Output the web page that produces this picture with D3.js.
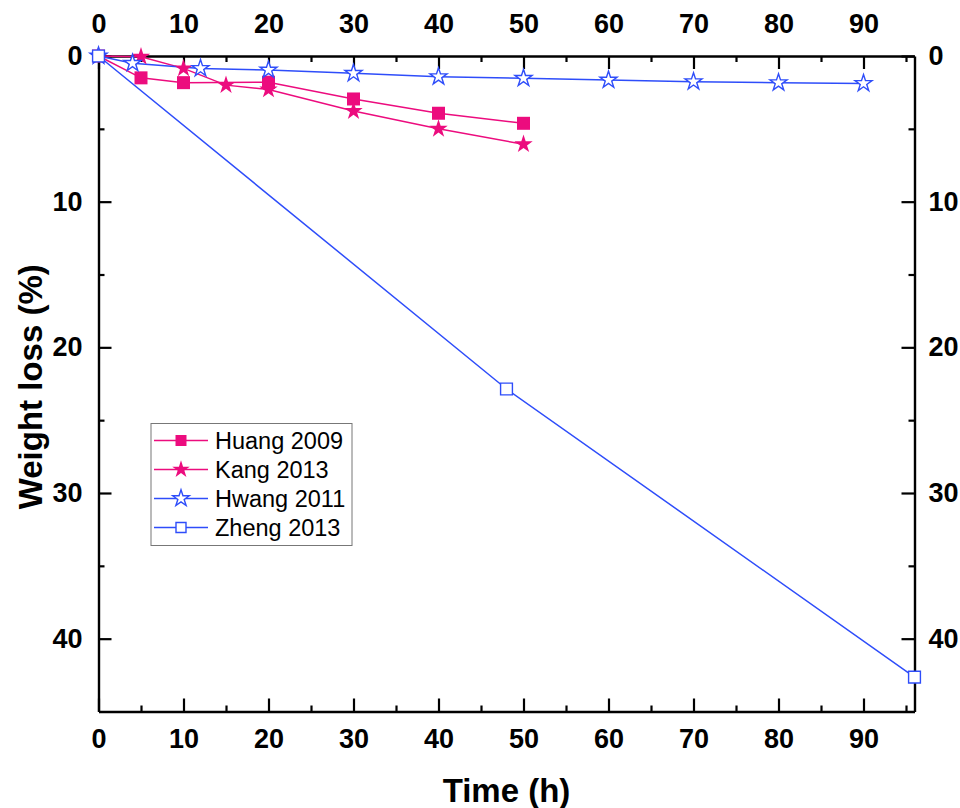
<!DOCTYPE html>
<html><head><meta charset="utf-8">
<script src="https://cdn.jsdelivr.net/npm/d3@7"></script>
<style>body{margin:0;background:#fff}svg{display:block}</style>
</head><body>
<script>
const huangX = [0, 5, 10, 20, 30, 40, 50];
const huangY = [0, 1.5, 1.83, 1.8, 2.95, 3.93, 4.62];
const kangX = [0, 5, 10, 15, 20, 30, 40, 50];
const kangY = [0, 0.05, 0.85, 2.0, 2.3, 3.78, 5.0, 6.06];
const hwangX = [0, 4, 12, 20, 30, 40, 50, 60, 70, 80, 90];
const hwangY = [0, 0.5, 0.85, 0.96, 1.19, 1.42, 1.53, 1.65, 1.76, 1.83, 1.88];
const zhengX = [0, 48, 96];
const zhengY = [0, 22.86, 42.64];
const xMajor = [0, 10, 20, 30, 40, 50, 60, 70, 80, 90];
const yMajor = [0, 10, 20, 30, 40];
const seriesNames = ["Huang 2009", "Kang 2013", "Hwang 2011", "Zheng 2013"];

const W = 960, H = 808;
const pink = "#EC0C7E", blue = "#2E4DFA";
const L = 98.5, R = 914.5, T = 56, B = 711.5;
const svg = d3.select("body").append("svg").attr("width", W).attr("height", H)
  .style("font-family", "Arial, 'Liberation Sans', sans-serif");

const x = d3.scaleLinear().domain([0, 96]).range([L, R]);
const y = d3.scaleLinear().domain([0, 45]).range([T, B]);

const xMinor = d3.range(5, 96, 10);
const yMinor = d3.range(5, 45, 10);

function styleAxis(g) {
  g.selectAll(".domain").attr("stroke", "#000").attr("stroke-width", 2.4);
  g.selectAll(".tick line").attr("stroke", "#000").attr("stroke-width", 2.2);
  g.selectAll("text").attr("font-weight", "bold").attr("font-size", 27).attr("fill", "#000")
    .attr("font-family", "Arial, 'Liberation Sans', sans-serif");
}
function minor(g) {
  g.select(".domain").remove();
  g.selectAll("line").attr("stroke", "#000").attr("stroke-width", 2.2);
}
// bottom
svg.append("g").attr("transform", `translate(0,${B})`)
  .call(d3.axisBottom(x).tickValues(xMajor).tickSizeInner(-13).tickSizeOuter(0).tickPadding(17)).call(styleAxis);
svg.append("g").attr("transform", `translate(0,${B})`)
  .call(d3.axisBottom(x).tickValues(xMinor).tickSizeInner(-6).tickSizeOuter(0).tickFormat("")).call(minor);
// top
svg.append("g").attr("transform", `translate(0,${T})`)
  .call(d3.axisTop(x).tickValues(xMajor).tickSizeInner(-13).tickSizeOuter(0).tickPadding(23)).call(styleAxis);
svg.append("g").attr("transform", `translate(0,${T})`)
  .call(d3.axisTop(x).tickValues(xMinor).tickSizeInner(-6).tickSizeOuter(0).tickFormat("")).call(minor);
// left
svg.append("g").attr("transform", `translate(${L},0)`)
  .call(d3.axisLeft(y).tickValues(yMajor).tickSizeInner(-13).tickSizeOuter(0).tickPadding(16)).call(styleAxis);
svg.append("g").attr("transform", `translate(${L},0)`)
  .call(d3.axisLeft(y).tickValues(yMinor).tickSizeInner(-6).tickSizeOuter(0).tickFormat("")).call(minor);
// right
svg.append("g").attr("transform", `translate(${R},0)`)
  .call(d3.axisRight(y).tickValues(yMajor).tickSizeInner(-13).tickSizeOuter(0).tickPadding(14)).call(styleAxis);
svg.append("g").attr("transform", `translate(${R},0)`)
  .call(d3.axisRight(y).tickValues(yMinor).tickSizeInner(-6).tickSizeOuter(0).tickFormat("")).call(minor);

// titles
svg.append("text").attr("x", (L + R) / 2).attr("y", 802).attr("text-anchor", "middle")
  .attr("font-weight", "bold").attr("font-size", 33).text("Time (h)");
svg.append("text").attr("transform", `translate(42,${(T + B) / 2 + 3}) rotate(-90)`).attr("text-anchor", "middle")
  .attr("font-weight", "bold").attr("font-size", 33).text("Weight loss (%)");

const series = [
  { name: seriesNames[0], xs: huangX, ys: huangY, color: pink, sym: d3.symbolSquare, size: 169, lsize: 121, fill: true },
  { name: seriesNames[1], xs: kangX, ys: kangY, color: pink, sym: d3.symbolStar, size: 105, lsize: 95, fill: true },
  { name: seriesNames[2], xs: hwangX, ys: hwangY, color: blue, sym: d3.symbolStar, size: 90, lsize: 85, fill: false },
  { name: seriesNames[3], xs: zhengX, ys: zhengY, color: blue, sym: d3.symbolSquare, size: 140, lsize: 100, fill: false }
];
const line = d3.line().x(d => x(d[0])).y(d => y(d[1]));
series.forEach(s => {
  const pts = s.xs.map((v, i) => [v, s.ys[i]]);
  svg.append("path").attr("d", line(pts)).attr("fill", "none").attr("stroke", s.color).attr("stroke-width", 1.5);
});
series.forEach(s => {
  const pts = s.xs.map((v, i) => [v, s.ys[i]]);
  svg.append("g").selectAll("path").data(pts).join("path")
    .attr("transform", d => `translate(${x(d[0])},${y(d[1])})`)
    .attr("d", d3.symbol().type(s.sym).size(s.size))
    .attr("fill", s.fill ? s.color : "#fff").attr("stroke", s.color).attr("stroke-width", s.fill ? 0 : 1.4);
});

// legend
const lg = svg.append("g");
lg.append("rect").attr("x", 151).attr("y", 423.5).attr("width", 201).attr("height", 122)
  .attr("fill", "#fff").attr("stroke", "#777").attr("stroke-width", 1);
series.forEach((s, i) => {
  const cy = 440.5 + i * 29;
  lg.append("line").attr("x1", 154).attr("x2", 208).attr("y1", cy).attr("y2", cy)
    .attr("stroke", s.color).attr("stroke-width", 1.5);
  lg.append("path").attr("transform", `translate(181,${cy})`)
    .attr("d", d3.symbol().type(s.sym).size(s.lsize))
    .attr("fill", s.fill ? s.color : "#fff").attr("stroke", s.color).attr("stroke-width", s.fill ? 0 : 1.4);
  lg.append("text").attr("x", 215).attr("y", cy + 8).attr("font-size", 23.5).text(s.name);
});
</script>
</body></html>
